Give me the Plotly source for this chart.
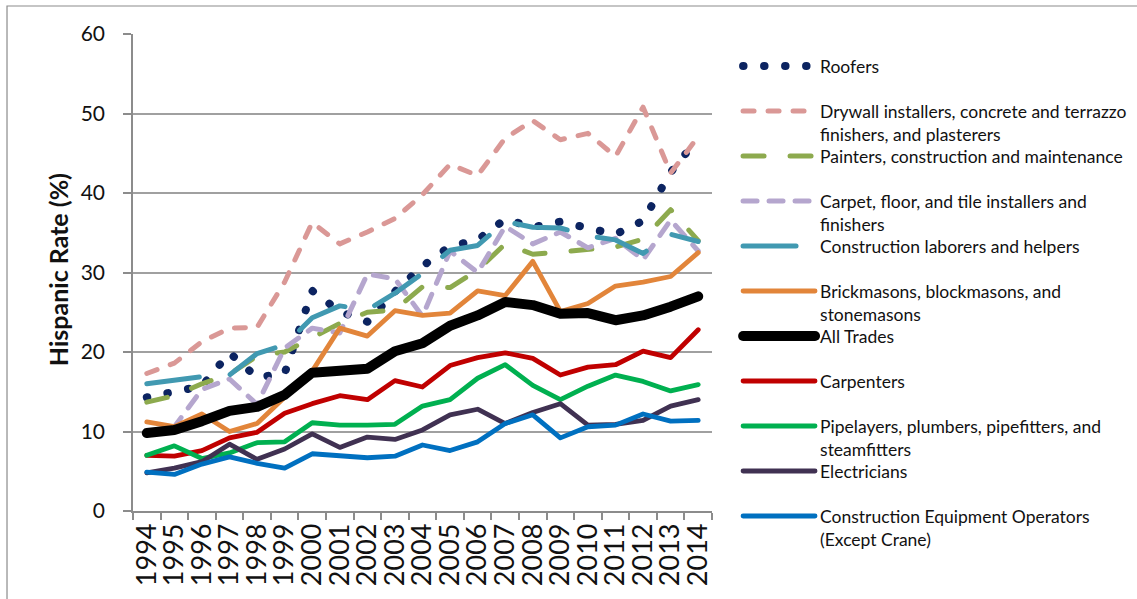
import plotly.graph_objects as go

years = [str(y) for y in range(1994, 2015)]

roofers = [14.3, 15.0, 15.7, 19.9, 16.8, 17.3, 27.7, 25.1, 23.8, 27.6, 30.8,
           33.3, 34.1, 36.7, 35.7, 36.4, 35.5, 34.8, 36.5, 42.6, 46.9]
drywall = [17.3, 18.6, 21.3, 23.0, 23.1, 28.8, 36.3, 33.6, 35.1, 36.8, 39.8,
           43.6, 42.2, 46.9, 49.1, 46.7, 47.5, 44.6, 50.8, 42.5, 47.1]
painters = [13.7, 14.5, 16.0, 17.2, 19.5, 20.0, 21.8, 23.6, 25.0, 25.3, 28.2,
            28.1, 30.3, 33.6, 32.3, 32.6, 32.9, 33.2, 34.2, 37.9, 34.0]
carpet = [9.6, 10.6, 15.3, 16.6, 13.4, 20.5, 23.0, 22.4, 29.8, 29.2, 24.5,
          32.7, 30.0, 35.8, 33.6, 35.1, 33.1, 34.3, 31.6, 36.6, 32.7]
laborers = [16.0, 16.5, 16.9, 17.1, 19.8, 20.9, 24.3, 25.8, 25.3, 27.4, 29.9,
            32.8, 33.4, 36.4, 35.7, 35.6, 34.6, 34.1, 32.4, 34.8, 33.9]
brickmasons = [11.2, 10.6, 12.2, 10.0, 11.0, 14.3, 17.6, 23.0, 22.0, 25.2, 24.6,
               24.9, 27.7, 27.1, 31.4, 25.1, 26.1, 28.3, 28.8, 29.5, 32.5]
all_trades = [9.8, 10.2, 11.3, 12.6, 13.1, 14.6, 17.4, 17.6, 17.9, 20.1, 21.1,
              23.3, 24.6, 26.3, 25.9, 24.8, 24.9, 24.0, 24.6, 25.7, 27.0]
carpenters = [7.0, 6.9, 7.6, 9.2, 9.9, 12.3, 13.5, 14.5, 14.0, 16.4, 15.6,
              18.3, 19.3, 19.9, 19.2, 17.1, 18.1, 18.4, 20.1, 19.3, 22.8]
pipelayers = [7.0, 8.2, 6.6, 7.3, 8.6, 8.7, 11.1, 10.8, 10.8, 10.9, 13.2,
              14.0, 16.7, 18.4, 15.8, 14.0, 15.7, 17.1, 16.3, 15.1, 15.9]
electricians = [4.8, 5.4, 6.2, 8.4, 6.5, 7.8, 9.7, 8.0, 9.3, 9.0, 10.2,
                12.1, 12.8, 11.0, 12.4, 13.5, 10.8, 10.9, 11.4, 13.2, 14.0]
equipment_ops = [4.9, 4.6, 5.9, 6.8, 6.0, 5.4, 7.2, 6.9, 6.7, 6.9, 8.3,
                 7.6, 8.7, 11.0, 12.1, 9.2, 10.6, 10.8, 12.2, 11.3, 11.4]

series = [
    ("Roofers", roofers, "#0C2461", 8, "0.5px,20.5px"),
    ("Drywall installers, concrete and terrazzo<br>finishers, and plasterers", drywall, "#DA9896", 5, "11px,14px"),
    ("Painters, construction and maintenance", painters, "#8DAA4E", 5, "21px,26px"),
    ("Carpet, floor, and tile installers and<br>finishers", carpet, "#B5A6CE", 5, "14px,12px"),
    ("Construction laborers and helpers", laborers, "#4199B1", 5, "53px,31px"),
    ("Brickmasons, blockmasons, and<br>stonemasons", brickmasons, "#E2853A", 4.8, "solid"),
    ("All Trades", all_trades, "#000000", 10, "solid"),
    ("Carpenters", carpenters, "#C00000", 4.8, "solid"),
    ("Pipelayers, plumbers, pipefitters, and<br>steamfitters", pipelayers, "#00B050", 4.8, "solid"),
    ("Electricians", electricians, "#403152", 4.8, "solid"),
    ("Construction Equipment Operators<br>(Except Crane)", equipment_ops, "#0070C0", 4.8, "solid"),
]

# plot area in pixels (for placing the legend entries)
W, H = 1137, 599
ML, MR, MT, MB = 133, 425, 34, 88
plot_h = H - MT - MB
leg_font = 17.5
first_line_offset = 5 + (1.3 * leg_font + 3) / 2
legend_first_row = 66
legend_row_step = 45

fig = go.Figure()
layout_legends = {}
for i, (name, vals, color, width, dash) in enumerate(series):
    key = "legend" if i == 0 else f"legend{i + 1}"
    fig.add_trace(go.Scatter(
        x=years, y=vals, name=name, mode="lines",
        line=dict(color=color, width=width, dash=dash),
        legend=key,
    ))
    top_px = legend_first_row + legend_row_step * i - first_line_offset
    layout_legends[key] = dict(
        x=1.045, xanchor="left",
        y=(H - MB - top_px) / plot_h, yanchor="top",
        font=dict(family="Lato", size=leg_font, color="#111111"),
        itemwidth=72, valign="top", bgcolor="rgba(0,0,0,0)",
        borderwidth=0,
    )

fig.update_layout(
    width=W, height=H,
    margin=dict(l=ML, r=MR, t=MT, b=MB, autoexpand=False),
    paper_bgcolor="white", plot_bgcolor="white",
    font=dict(family="Lato", color="#111111"),
    showlegend=True,
    annotations=[dict(
        text="<b>Hispanic Rate (%)</b>", textangle=-90,
        xref="paper", yref="paper", x=-0.1295, y=0.505,
        xanchor="center", yanchor="middle", showarrow=False,
        font=dict(family="Lato", size=25, color="#111111"),
    )],
    shapes=[dict(
        type="rect", xref="paper", yref="paper",
        x0=-0.2176, x1=1.9, y0=-0.4, y1=1.0587,
        line=dict(color="#8C8C8C", width=1.2), fillcolor="rgba(0,0,0,0)",
        layer="below",
    )],
    **layout_legends,
)

fig.update_xaxes(
    type="category", categoryorder="array", categoryarray=years,
    tickmode="array", tickvals=years, ticktext=years,
    range=[-0.5, 20.5], tickson="boundaries", automargin=False,
    ticks="outside", ticklen=7, tickwidth=1.5, tickcolor="#8C8C8C",
    showline=True, linecolor="#8C8C8C", linewidth=1.5,
    showgrid=False, tickangle=-90,
    tickfont=dict(family="Lato", size=27, color="#111111"),
)
fig.update_yaxes(
    range=[0, 60], dtick=10, tick0=0, automargin=False,
    ticks="outside", ticklen=8, tickwidth=1.5, tickcolor="#8C8C8C",
    showline=True, linecolor="#8C8C8C", linewidth=1.5,
    showgrid=True, gridcolor="#A0A0A0", gridwidth=1.5, zeroline=False,
    ticklabelstandoff=14,
    tickfont=dict(family="Lato", size=21, color="#111111"),
)

css = ("document.body.style.margin='0';"
       "var s=document.createElement('style');"
       "s.innerHTML='body{margin:0;} .js-line{stroke-linecap:round;stroke-linejoin:round;}';"
       "document.head.appendChild(s);")
fig.write_html("out.html", post_script=css, config={"displayModeBar": False})
